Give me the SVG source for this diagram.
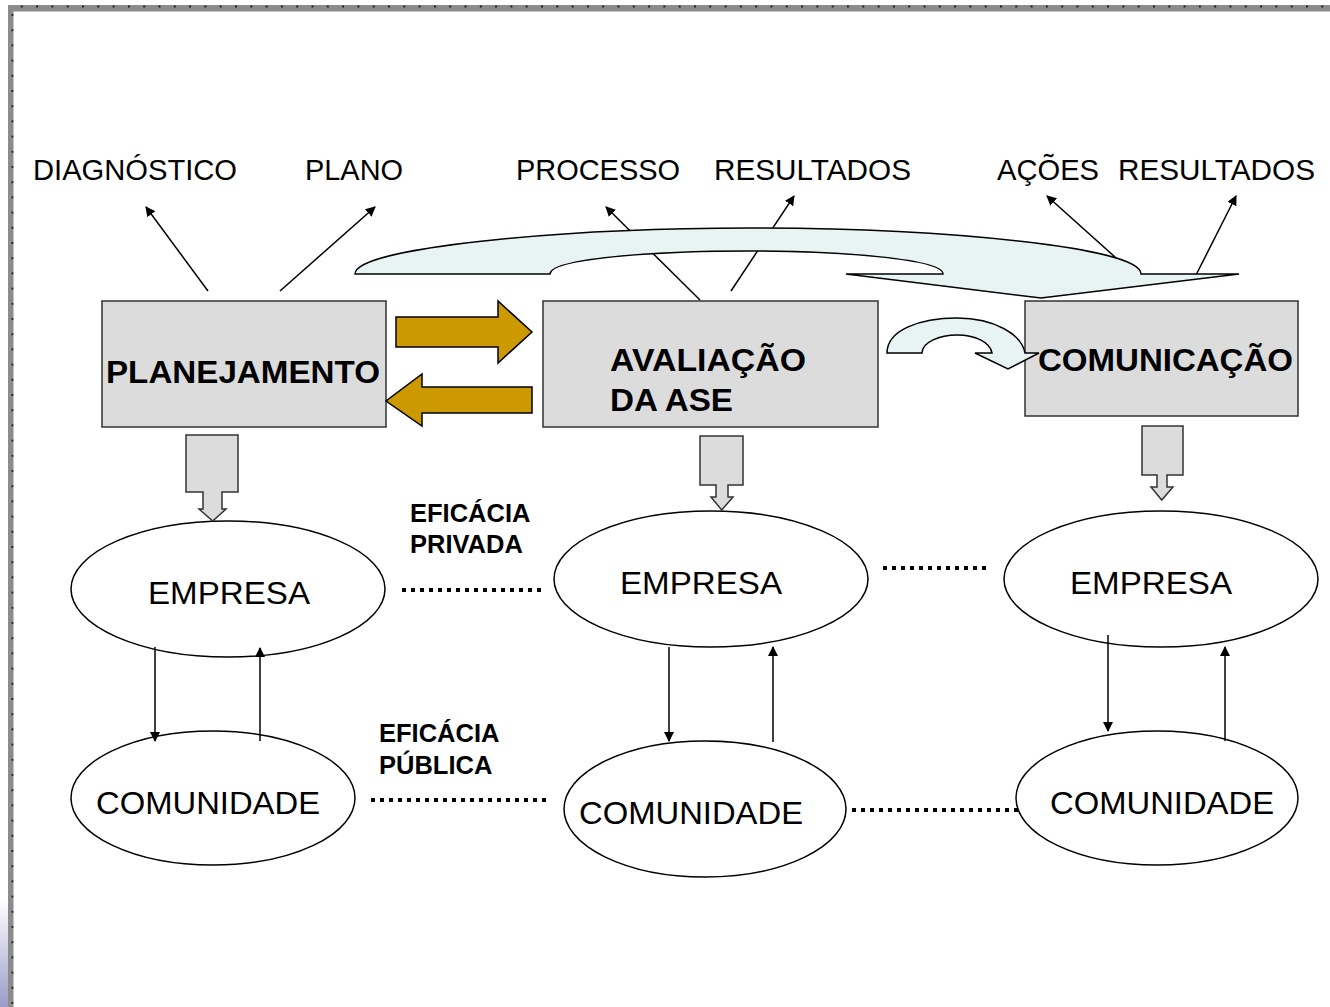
<svg xmlns="http://www.w3.org/2000/svg" width="1330" height="1007" viewBox="0 0 1330 1007">
<defs>
<marker id="ah" viewBox="0 0 10 10" refX="9" refY="5" markerWidth="10" markerHeight="10" markerUnits="userSpaceOnUse" orient="auto">
<path d="M0,0 L10,5 L0,10 Z" fill="#000"/>
</marker>
<pattern id="dotsH" x="5.5" y="0" width="15.3" height="12" patternUnits="userSpaceOnUse">
<rect x="0" y="5.5" width="2" height="2" fill="#222"/>
</pattern>
<pattern id="dotsV" x="0" y="14" width="15" height="15.2" patternUnits="userSpaceOnUse">
<rect x="11.5" y="0" width="2" height="2" fill="#222"/>
</pattern>
<linearGradient id="lg" x1="0" y1="0" x2="0" y2="1">
<stop offset="0" stop-color="#ffffff"/>
<stop offset="1" stop-color="#9a9ac8"/>
</linearGradient>
</defs>
<style>
.lbl{font-family:"Liberation Sans",Arial,sans-serif;font-size:30px;fill:#000}
.box{fill:#dcdcdc;stroke:#333;stroke-width:1.5}
.bt{font-family:"Liberation Sans",Arial,sans-serif;font-size:32px;font-weight:bold;fill:#000}
.ell{fill:#fff;stroke:#000;stroke-width:1.5}
.et{font-family:"Liberation Sans",Arial,sans-serif;font-size:32px;fill:#000}
.ef{font-family:"Liberation Sans",Arial,sans-serif;font-size:25.5px;font-weight:bold;fill:#000}
.ln{stroke:#000;stroke-width:1.5;fill:none;marker-end:url(#ah)}
.gold{fill:#cc9900;stroke:#000;stroke-width:1.5}
.grey{fill:#dcdcdc;stroke:#333;stroke-width:1.5}
.cyan{fill:#e8f4f4;stroke:#000;stroke-width:1.5}
.dot{stroke:#000;stroke-width:4;stroke-dasharray:4 5;fill:none}
</style>
<rect width="1330" height="1007" fill="#fff"/>
<rect x="0" y="900" width="8" height="107" fill="url(#lg)"/>
<g id="border">
<rect x="8" y="5" width="1322" height="6.5" fill="#8c8c8c"/>
<rect x="8" y="5" width="1322" height="6.5" fill="url(#dotsH)"/>
<rect x="8" y="5" width="5.5" height="1002" fill="#8c8c8c"/>
<rect x="8" y="11" width="5.5" height="996" fill="url(#dotsV)"/>
</g>

<g id="label-diagnostico"><text class="lbl" x="33" y="180" textLength="204" lengthAdjust="spacingAndGlyphs">DIAGNÓSTICO</text></g>
<g id="label-plano"><text class="lbl" x="305" y="180" textLength="98" lengthAdjust="spacingAndGlyphs">PLANO</text></g>
<g id="label-processo"><text class="lbl" x="516" y="180" textLength="164" lengthAdjust="spacingAndGlyphs">PROCESSO</text></g>
<g id="label-resultados1"><text class="lbl" x="714" y="180" textLength="197" lengthAdjust="spacingAndGlyphs">RESULTADOS</text></g>
<g id="label-acoes"><text class="lbl" x="997" y="180" textLength="102" lengthAdjust="spacingAndGlyphs">AÇÕES</text></g>
<g id="label-resultados2"><text class="lbl" x="1118" y="180" textLength="197" lengthAdjust="spacingAndGlyphs">RESULTADOS</text></g>

<g id="planejamento">
<rect class="box" x="102" y="301" width="284" height="126"/>
<text class="bt" x="106" y="383" textLength="274" lengthAdjust="spacingAndGlyphs">PLANEJAMENTO</text>
</g>
<g id="avaliacao">
<rect class="box" x="543" y="301" width="335" height="126"/>
<text class="bt" x="610" y="371" textLength="196" lengthAdjust="spacingAndGlyphs">AVALIAÇÃO</text>
<text class="bt" x="610" y="411" textLength="123" lengthAdjust="spacingAndGlyphs">DA ASE</text>
</g>
<g id="comunicacao">
<rect class="box" x="1025" y="301" width="273" height="115"/>
<text class="bt" x="1038" y="371" textLength="255" lengthAdjust="spacingAndGlyphs">COMUNICAÇÃO</text>
</g>

<g id="empresa1">
<ellipse class="ell" cx="228" cy="589" rx="157" ry="68"/>
<text class="et" x="148" y="604" textLength="162" lengthAdjust="spacingAndGlyphs">EMPRESA</text>
</g>
<g id="empresa2">
<ellipse class="ell" cx="711" cy="579" rx="157" ry="68"/>
<text class="et" x="620" y="594" textLength="162" lengthAdjust="spacingAndGlyphs">EMPRESA</text>
</g>
<g id="empresa3">
<ellipse class="ell" cx="1161" cy="579" rx="157" ry="68"/>
<text class="et" x="1070" y="594" textLength="162" lengthAdjust="spacingAndGlyphs">EMPRESA</text>
</g>
<g id="comunidade1">
<ellipse class="ell" cx="213" cy="798" rx="142" ry="67"/>
<text class="et" x="96" y="814" textLength="224" lengthAdjust="spacingAndGlyphs">COMUNIDADE</text>
</g>
<g id="comunidade2">
<ellipse class="ell" cx="705" cy="809" rx="141" ry="68"/>
<text class="et" x="579" y="824" textLength="224" lengthAdjust="spacingAndGlyphs">COMUNIDADE</text>
</g>
<g id="comunidade3">
<ellipse class="ell" cx="1157" cy="798" rx="141" ry="67"/>
<text class="et" x="1050" y="814" textLength="224" lengthAdjust="spacingAndGlyphs">COMUNIDADE</text>
</g>

<g id="eficacia-privada">
<text class="ef" x="410" y="522">EFICÁCIA</text>
<text class="ef" x="410" y="553">PRIVADA</text>
</g>
<g id="eficacia-publica">
<text class="ef" x="379" y="742">EFICÁCIA</text>
<text class="ef" x="379" y="774">PÚBLICA</text>
</g>

<g id="connectors">
<line class="ln" x1="208" y1="291" x2="146" y2="207"/>
<line class="ln" x1="280" y1="291" x2="375" y2="207"/>
<line class="ln" x1="700" y1="300" x2="606" y2="207"/>
<line class="ln" x1="731" y1="291" x2="794" y2="196"/>
<line class="ln" x1="1125" y1="266" x2="1047" y2="196"/>
<line class="ln" x1="1194" y1="279" x2="1236" y2="196"/>
<line class="ln" x1="155" y1="647" x2="155" y2="741"/>
<line class="ln" x1="260" y1="741" x2="260" y2="648"/>
<line class="ln" x1="669" y1="647" x2="669" y2="741"/>
<line class="ln" x1="773" y1="742" x2="773" y2="647"/>
<line class="ln" x1="1108" y1="635" x2="1108" y2="731"/>
<line class="ln" x1="1225" y1="741" x2="1225" y2="647"/>
<line class="dot" x1="402" y1="590" x2="545" y2="590"/>
<line class="dot" x1="883" y1="568" x2="990" y2="568"/>
<line class="dot" x1="371" y1="800" x2="551" y2="800"/>
<line class="dot" x1="852" y1="810" x2="1022" y2="810"/>
</g>

<g id="big-curved-arrow">
<path class="cyan" d="M355,274 C355,248 560,228 750,228 C950,228 1141,248 1141,274 L1239,274 L1041,298 L846,274 L943,274 C943,259 840,251 750,251 C650,251 550,259 550,274 Z"/>
</g>

<g id="small-curved-arrow">
<path class="cyan" d="M887,353 C887,330 920,318 957,318 C995,318 1022,335 1025,353 L1039,353 L1008,369 L975,353 L992,353 C990,342 975,335 957,335 C940,335 922,342 922,353 Z"/>
</g>

<g id="gold-arrow-right">
<path class="gold" d="M396,317 L498,317 L498,301 L532,332 L498,363 L498,347 L396,347 Z"/>
</g>
<g id="gold-arrow-left">
<path class="gold" d="M532,387 L422,387 L422,374 L386,401 L422,426 L422,413 L532,413 Z"/>
</g>

<g id="grey-arrow-1">
<path class="grey" d="M186,435 L238,435 L238,492 L222,492 L222,509 L226,509 L212.7,521 L199,509 L203,509 L203,492 L186,492 Z"/>
</g>
<g id="grey-arrow-2">
<path class="grey" d="M700,436 L743,436 L743,485 L728,485 L728,497 L733,497 L721.7,510 L711,497 L716,497 L716,485 L700,485 Z"/>
</g>
<g id="grey-arrow-3">
<path class="grey" d="M1142,426 L1183,426 L1183,475 L1167,475 L1167,487 L1173,487 L1161.7,500 L1151,487 L1157,487 L1157,475 L1142,475 Z"/>
</g>
</svg>
